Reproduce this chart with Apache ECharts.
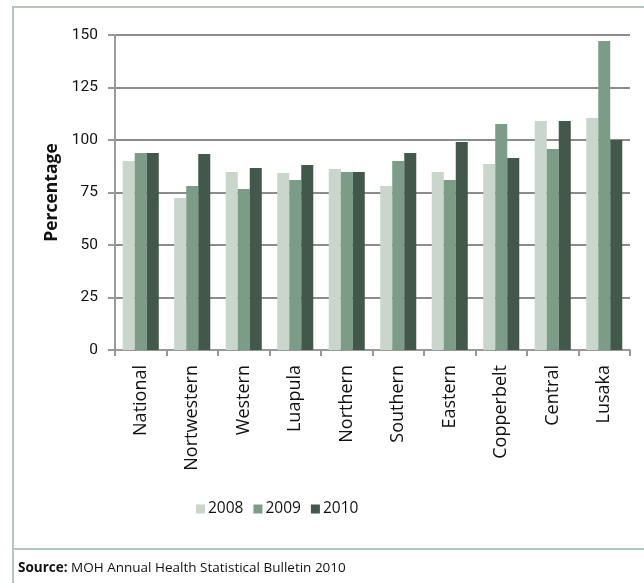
<!DOCTYPE html>
<html>
<head>
<meta charset="utf-8">
<script src="https://cdn.jsdelivr.net/npm/echarts@6/dist/echarts.min.js"></script>
<style>
  html, body { margin: 0; padding: 0; background: #fff; }
  #chart { width: 644px; height: 583px; }
</style>
</head>
<body>
<div id="chart"></div>
<script>
// Provinces along the category axis
const provinces = ['National', 'Nortwestern', 'Western', 'Luapula', 'Northern',
  'Southern', 'Eastern', 'Copperbelt', 'Central', 'Lusaka'];
// Coverage (%) per year
const values2008 = [90, 72.4, 84.8, 84.3, 86.2, 78.1, 84.8, 88.6, 109, 110.5];
const values2009 = [93.8, 78.1, 76.7, 81, 84.8, 90, 81, 107.6, 95.7, 147.1];
const values2010 = [93.8, 93.3, 86.7, 88.1, 84.8, 93.8, 99, 91.4, 109, 100];
const yearNames = ['2008', '2009', '2010'];
const yearColors = ['#c8d6cc', '#7b9d87', '#41584b'];

const chart = echarts.init(document.getElementById('chart'));
const seriesData = [values2008, values2009, values2010];

chart.setOption({
  animation: false,
  grid: { left: 115, right: 14, top: 35, bottom: 233 },
  legend: {
    left: 191, top: 496,
    itemWidth: 9, itemHeight: 9, itemGap: 10,
    icon: 'rect',
    textStyle: { fontFamily: 'Open Sans', fontSize: 15.5, color: '#111', padding: [0, 0, 0, -2] },
    data: yearNames
  },
  xAxis: {
    type: 'category',
    data: provinces,
    axisLine: { lineStyle: { color: '#999', width: 2 } },
    axisTick: { show: true, length: 6, lineStyle: { color: '#999', width: 2 } },
    axisLabel: {
      rotate: 90, interval: 0, margin: 15,
      fontFamily: 'Open Sans', fontSize: 18, color: '#111'
    }
  },
  yAxis: {
    type: 'value',
    min: 0, max: 150, interval: 25,
    name: 'Percentage',
    nameLocation: 'middle',
    nameGap: 54,
    nameTextStyle: { fontFamily: 'Open Sans', fontWeight: 'bold', fontSize: 17.5, color: '#111' },
    axisLine: { show: true, lineStyle: { color: '#999', width: 2 } },
    axisTick: { show: true, length: 7, lineStyle: { color: '#999', width: 2 } },
    axisLabel: { fontFamily: 'Roboto', fontSize: 15.5, color: '#111', margin: 17 },
    splitLine: { lineStyle: { color: '#8c8c8c', width: 2 } }
  },
  series: seriesData.map((d, i) => ({
    name: yearNames[i],
    type: 'bar',
    data: d,
    barGap: '0%',
    barCategoryGap: '30%',
    itemStyle: { color: yearColors[i] }
  })),
  graphic: [
    // frame: top rule, left rule, rule above the source line
    { type: 'line', shape: { x1: 13, y1: 7, x2: 644, y2: 7 }, style: { stroke: '#b3c7ba', lineWidth: 2 } },
    { type: 'line', shape: { x1: 13, y1: 6, x2: 13, y2: 583 }, style: { stroke: '#b3c7ba', lineWidth: 2 } },
    { type: 'line', shape: { x1: 13, y1: 549, x2: 644, y2: 549 }, style: { stroke: '#b3c7ba', lineWidth: 2 } },
    {
      type: 'text', left: 18, top: 561,
      style: {
        text: '{b|Source:} MOH Annual Health Statistical Bulletin 2010',
        rich: {
          b: { fontFamily: 'Open Sans', fontWeight: 'bold', fontSize: 13.5, fill: '#111' }
        },
        fontFamily: 'Open Sans', fontSize: 13.5, fill: '#111'
      }
    }
  ]
});
</script>
</body>
</html>
